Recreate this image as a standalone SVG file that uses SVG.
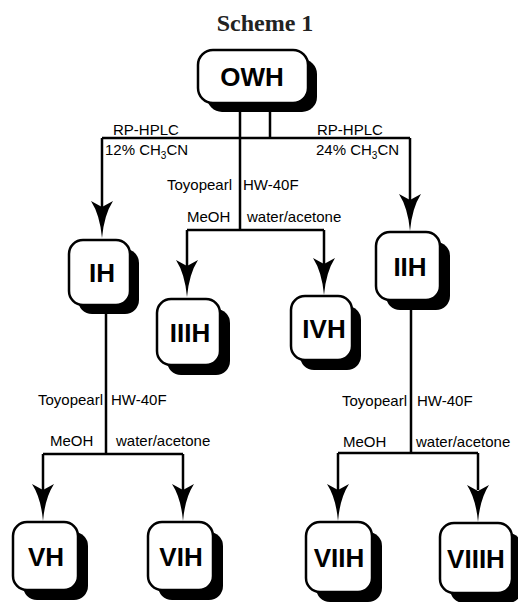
<svg xmlns="http://www.w3.org/2000/svg" width="518" height="602" viewBox="0 0 518 602">
<defs>
<style>
.box{fill:#fff;stroke:#000;stroke-width:2.5}
.sh{fill:#000}
.nt{font-family:"Liberation Sans",Arial,sans-serif;font-weight:bold;font-size:26px;text-anchor:middle;fill:#000}
.lb{font-family:"Liberation Sans",Arial,sans-serif;font-size:15px;fill:#000}
.ln{fill:none;stroke:#000;stroke-width:2.5}
.ah{fill:#000}
</style>
<path id="arr" d="M-11,0 L0,6 L11,0 Q2,14 0,37 Q-2,14 -11,0 Z"/>
</defs>
<rect width="518" height="602" fill="#fff"/>
<text x="265" y="31" text-anchor="middle" style="font-family:'Liberation Serif','Times New Roman',serif;font-weight:bold;font-size:24px;fill:#222">Scheme 1</text>

<g id="connectors">
<path class="ln" d="M240,102 V230 M187,230 H324 M187,230 V270 M324,230 V268"/>
<path class="ln" d="M270,102 V138 M102,138 H410 M102,138 V210 M410,138 V200"/>
<path class="ln" d="M106,312 V454 M43,454 H183 M43,454 V490 M183,454 V490"/>
<path class="ln" d="M411,308 V453 M338,453 H478 M338,453 V490 M478,453 V490"/>
<use href="#arr" class="ah" x="102" y="201"/>
<use href="#arr" class="ah" x="410" y="194"/>
<use href="#arr" class="ah" x="187" y="260"/>
<use href="#arr" class="ah" x="324" y="258"/>
<use href="#arr" class="ah" x="43" y="484"/>
<use href="#arr" class="ah" x="183" y="484"/>
<use href="#arr" class="ah" x="338" y="484"/>
<use href="#arr" class="ah" x="478" y="485"/>
<text class="lb" x="113" y="135">RP-HPLC</text>
<text class="lb" x="105" y="155">12% CH<tspan font-size="10" dy="4">3</tspan><tspan dy="-4">CN</tspan></text>
<text class="lb" x="317" y="135">RP-HPLC</text>
<text class="lb" x="316" y="155">24% CH<tspan font-size="10" dy="4">3</tspan><tspan dy="-4">CN</tspan></text>
<text class="lb" x="232" y="190" text-anchor="end">Toyopearl</text>
<text class="lb" x="243" y="190">HW-40F</text>
<text class="lb" x="187" y="222">MeOH</text>
<text class="lb" x="247" y="222">water/acetone</text>
<text class="lb" x="103" y="405" text-anchor="end">Toyopearl</text>
<text class="lb" x="111" y="405">HW-40F</text>
<text class="lb" x="50" y="446">MeOH</text>
<text class="lb" x="116" y="446">water/acetone</text>
<text class="lb" x="407" y="406" text-anchor="end">Toyopearl</text>
<text class="lb" x="417" y="406">HW-40F</text>
<text class="lb" x="343" y="447">MeOH</text>
<text class="lb" x="416" y="447">water/acetone</text>
</g>

<g id="OWH"><rect class="sh" x="207" y="59" width="110" height="53" rx="15"/><rect class="box" x="198" y="50" width="110" height="53" rx="15"/><text class="nt" x="252" y="86">OWH</text></g>
<g id="IH"><rect class="sh" x="78" y="249" width="61" height="65" rx="14"/><rect class="box" x="69" y="240" width="61" height="65" rx="14"/><text class="nt" x="102" y="282">IH</text></g>
<g id="IIH"><rect class="sh" x="386" y="242" width="64" height="68" rx="14"/><rect class="box" x="376" y="232" width="64" height="68" rx="14"/><text class="nt" x="410" y="276">IIH</text></g>
<g id="IIIH"><rect class="sh" x="167" y="309" width="63" height="66" rx="14"/><rect class="box" x="157" y="299" width="63" height="66" rx="14"/><text class="nt" x="190" y="342">IIIH</text></g>
<g id="IVH"><rect class="sh" x="300" y="306" width="61" height="64" rx="14"/><rect class="box" x="291" y="296" width="61" height="64" rx="14"/><text class="nt" x="324" y="338">IVH</text></g>
<g id="VH"><rect class="sh" x="23" y="532" width="65" height="68" rx="14"/><rect class="box" x="13" y="522" width="65" height="68" rx="14"/><text class="nt" x="46" y="566">VH</text></g>
<g id="VIH"><rect class="sh" x="158" y="532" width="65" height="68" rx="14"/><rect class="box" x="148" y="522" width="65" height="68" rx="14"/><text class="nt" x="181" y="566">VIH</text></g>
<g id="VIIH"><rect class="sh" x="316" y="532" width="66" height="70" rx="14"/><rect class="box" x="306" y="522" width="66" height="70" rx="14"/><text class="nt" x="339" y="567">VIIH</text></g>
<g id="VIIIH"><rect class="sh" x="450" y="533" width="72" height="70" rx="14"/><rect class="box" x="440" y="523" width="72" height="70" rx="14"/><text class="nt" x="476" y="568">VIIIH</text></g>
</svg>
